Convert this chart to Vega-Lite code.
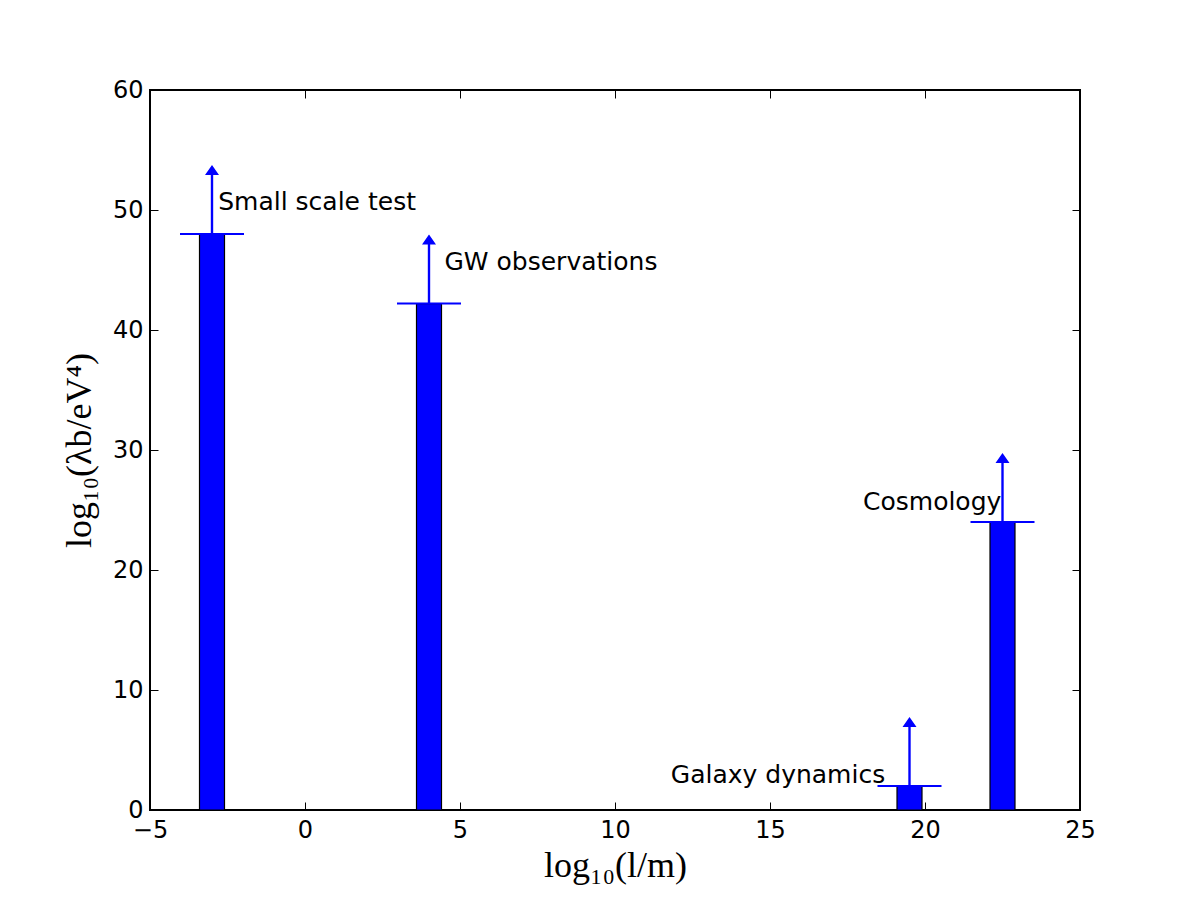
{
  "$schema": "https://vega.github.io/schema/vega-lite/v6.json",
  "width": 930,
  "height": 720,
  "autosize": {"type": "none"},
  "padding": {"left": 150, "top": 90, "right": 120, "bottom": 90},
  "background": "white",
  "config": {
    "view": {"stroke": "black", "strokeWidth": 2},
    "scale": {"continuousPadding": 0},
    "axis": {
      "grid": false,
      "domain": false,
      "tickColor": "black",
      "tickWidth": 1,
      "tickSize": -8,
      "labelFont": "DejaVu Sans",
      "labelFontSize": 24,
      "labelColor": "black",
      "labelFlush": false,
      "labelOverlap": false,
      "titleFont": "Liberation Serif",
      "titleFontSize": 36,
      "titleFontWeight": "normal",
      "titleColor": "black"
    }
  },
  "data": {
    "values": [
      {"name": "Small scale test", "log_l": -3, "log_lambda": 48, "label_x": -2.8, "label_y": 50},
      {"name": "GW observations", "log_l": 4, "log_lambda": 42.2, "label_x": 4.5, "label_y": 45},
      {"name": "Galaxy dynamics", "log_l": 19.5, "log_lambda": 2, "label_x": 11.8, "label_y": 2.25},
      {"name": "Cosmology", "log_l": 22.5, "log_lambda": 24, "label_x": 18, "label_y": 25}
    ]
  },
  "layer": [
    {
      "mark": {"type": "bar", "width": 25, "fill": "#0000ff", "stroke": "black", "strokeWidth": 1.2},
      "encoding": {
        "x": {
          "field": "log_l", "type": "quantitative",
          "scale": {"domain": [-5, 25], "nice": false, "zero": false, "padding": 0},
          "axis": {"orient": "bottom", "values": [-5, 0, 5, 10, 15, 20, 25], "labelPadding": 16, "title": "log₁₀(l/m)", "titlePadding": 6}
        },
        "y": {
          "field": "log_lambda", "type": "quantitative",
          "scale": {"domain": [0, 60], "nice": false, "padding": 0},
          "axis": {"orient": "left", "values": [0, 10, 20, 30, 40, 50, 60], "labelPadding": 15, "title": "log₁₀(λb/eV⁴)", "titlePadding": 14}
        }
      }
    },
    {
      "mark": {"type": "tick", "orient": "horizontal", "size": 64, "thickness": 2, "color": "#0000ff", "opacity": 1},
      "encoding": {
        "x": {
          "field": "log_l", "type": "quantitative",
          "scale": {"domain": [-5, 25], "nice": false, "zero": false, "padding": 0},
          "axis": {"orient": "top", "values": [-5, 0, 5, 10, 15, 20, 25], "labels": false, "title": null}
        },
        "y": {
          "field": "log_lambda", "type": "quantitative",
          "scale": {"domain": [0, 60], "nice": false, "padding": 0},
          "axis": {"orient": "right", "values": [0, 10, 20, 30, 40, 50, 60], "labels": false, "title": null}
        }
      }
    },
    {
      "mark": {
        "type": "point",
        "shape": "M-0.17,0 L0.17,0 L0.17,-8.43 L1,-8.43 L0,-9.86 L-1,-8.43 L-0.17,-8.43 Z",
        "size": 196,
        "filled": true,
        "fill": "#0000ff",
        "strokeWidth": 0,
        "opacity": 1
      },
      "encoding": {
        "x": {"field": "log_l", "type": "quantitative", "scale": {"domain": [-5, 25], "nice": false, "zero": false, "padding": 0}, "axis": null},
        "y": {"field": "log_lambda", "type": "quantitative", "scale": {"domain": [0, 60], "nice": false, "padding": 0}, "axis": null}
      }
    },
    {
      "mark": {"type": "text", "align": "left", "baseline": "alphabetic", "font": "DejaVu Sans", "fontSize": 25, "color": "black"},
      "encoding": {
        "x": {"field": "label_x", "type": "quantitative", "scale": {"domain": [-5, 25], "nice": false, "zero": false, "padding": 0}, "axis": null},
        "y": {"field": "label_y", "type": "quantitative", "scale": {"domain": [0, 60], "nice": false, "padding": 0}, "axis": null},
        "text": {"field": "name"}
      }
    }
  ],
  "resolve": {"axis": {"x": "independent", "y": "independent"}}
}
